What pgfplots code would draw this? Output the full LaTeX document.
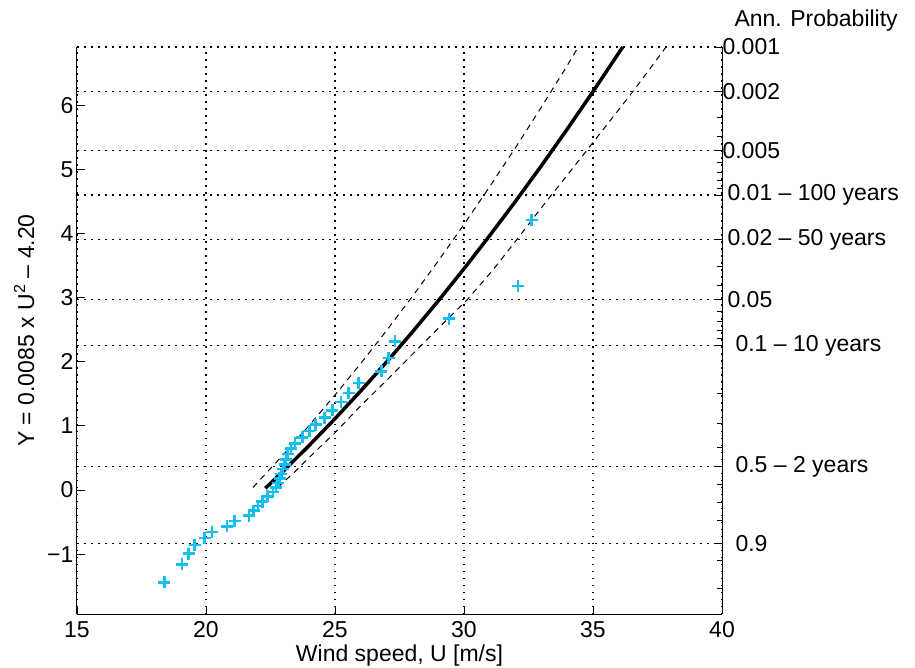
\documentclass[border=0pt]{standalone}
\usepackage{pgfplots}
\pgfplotsset{compat=1.18}
\usepackage{fontspec}
\setmainfont{Liberation Sans}
\definecolor{ptcyan}{RGB}{20,190,240}
\pgfplotstableread{
x y
18.38 -1.44
19.07 -1.16
19.33 -0.99
19.56 -0.86
19.95 -0.75
20.23 -0.655
20.81 -0.565
21.11 -0.48
21.66 -0.40
21.85 -0.32
22.01 -0.25
22.18 -0.18
22.38 -0.10
22.60 -0.03
22.72 0.04
22.80 0.11
22.86 0.18
22.92 0.25
22.98 0.33
23.05 0.40
23.10 0.48
23.17 0.56
23.30 0.645
23.45 0.73
23.74 0.82
24.00 0.92
24.25 1.02
24.60 1.13
24.90 1.24
25.23 1.37
25.53 1.51
25.92 1.67
26.80 1.85
27.08 2.06
27.33 2.32
29.42 2.67
32.10 3.18
32.62 4.21
}\obsdata
\pgfplotstableread{
x y
22.30 0.027
23 0.2965
24 0.696
25 1.1125
26 1.546
27 1.9965
28 2.464
29 2.9485
30 3.45
31 3.9685
32 4.504
33 5.0565
34 5.626
35 6.2125
36 6.816
36.15 6.907
}\fitdata
\pgfplotstableread{
x y
21.82 0.04
23 0.552
24 1.007
25 1.481
26 1.974
27 2.487
28 3.019
29 3.571
30 4.142
31 4.732
32 5.341
33 5.970
34 6.618
34.43 6.907
}\updata
\pgfplotstableread{
x y
22.78 0.04
23.43 0.28
23.88 0.46
24.52 0.71
24.97 0.88
25.94 1.29
27.10 1.75
28.65 2.38
30.13 2.97
31.10 3.42
32.00 3.88
32.90 4.35
34.77 5.30
36.58 6.23
37.54 6.75
37.83 6.907
}\lowdata
\begin{document}
\begin{tikzpicture}[font=\fontsize{23}{27}\selectfont]
\useasboundingbox (-77pt,-53pt) rectangle (838pt,614pt);
\pgfplotsset{every axis/.append style={width=645pt,height=567pt,scale only axis,
  xmin=15,xmax=40,ymin=-1.933,ymax=6.9075,
  tick align=inside, major tick length=8pt, minor tick length=5pt,
  tick style={black,line width=0.8pt},
  axis line style={black,line width=1pt},
  major grid style={black,line width=1.4pt,dash pattern=on 1.5pt off 5.5pt},
  tick label style={font=\fontsize{23}{27}\selectfont},
  label style={font=\fontsize{23}{27}\selectfont},
  /pgf/number format/assume math mode=true}}
% right axis: annual probability
\begin{axis}[at={(0,0)},anchor=south west,
  hide x axis, axis y line*=right,
  ytick={6.907,6.210,5.296,4.600,3.902,2.970,2.250,0.367,-0.834},
  yticklabels={0.001,0.002,0.005,\hspace{5pt}0.01 – 100 years,\hspace{5pt}0.02 – 50 years,\hspace{5pt}0.05,\hspace{13pt}0.1 – 10 years,\hspace{13pt}0.5 – 2 years,\hspace{13pt}0.9},
  minor ytick={5.808,5.519,5.113,4.958,4.824,4.706,3.491,3.198,2.783,2.623,2.484,2.361,1.500,1.031,0.672,0.0874,-0.1856,-0.476,-1.097,-1.527},
  ymajorgrids,
  yticklabel style={anchor=west,xshift=-3pt},
]
\end{axis}
% main axis
\begin{axis}[at={(0,0)},anchor=south west,
  axis x line*=bottom, axis y line*=left,
  xtick={15,20,...,40},
  ytick={-1,0,1,2,3,4,5,6},
  yticklabels={−1,0,1,2,3,4,5,6},
  xmajorgrids,
  xlabel={Wind speed, U [m/s]},
  ylabel={Y = 0.0085 x U\textsuperscript{2} – 4.20},
  xticklabel style={yshift=-4pt},
  xlabel style={yshift=-2pt,inner sep=1pt},
  ylabel style={yshift=6pt},
  clip=false,
]
\addplot[black,line width=1pt,dash pattern=on 6pt off 5pt] table[x=x,y=y]{\updata};
\addplot[black,line width=1pt,dash pattern=on 6pt off 5pt] table[x=x,y=y]{\lowdata};
\addplot[black,line width=3.5pt] table[x=x,y=y]{\fitdata};
\addplot[only marks,mark=+,mark size=6pt,mark options={ptcyan,line width=2.6pt}] table[x=x,y=y]{\obsdata};
\node[anchor=base west] at (rel axis cs:1,1) [xshift=9pt,yshift=20pt] {Ann. Probability};
\end{axis}
\end{tikzpicture}
\end{document}
